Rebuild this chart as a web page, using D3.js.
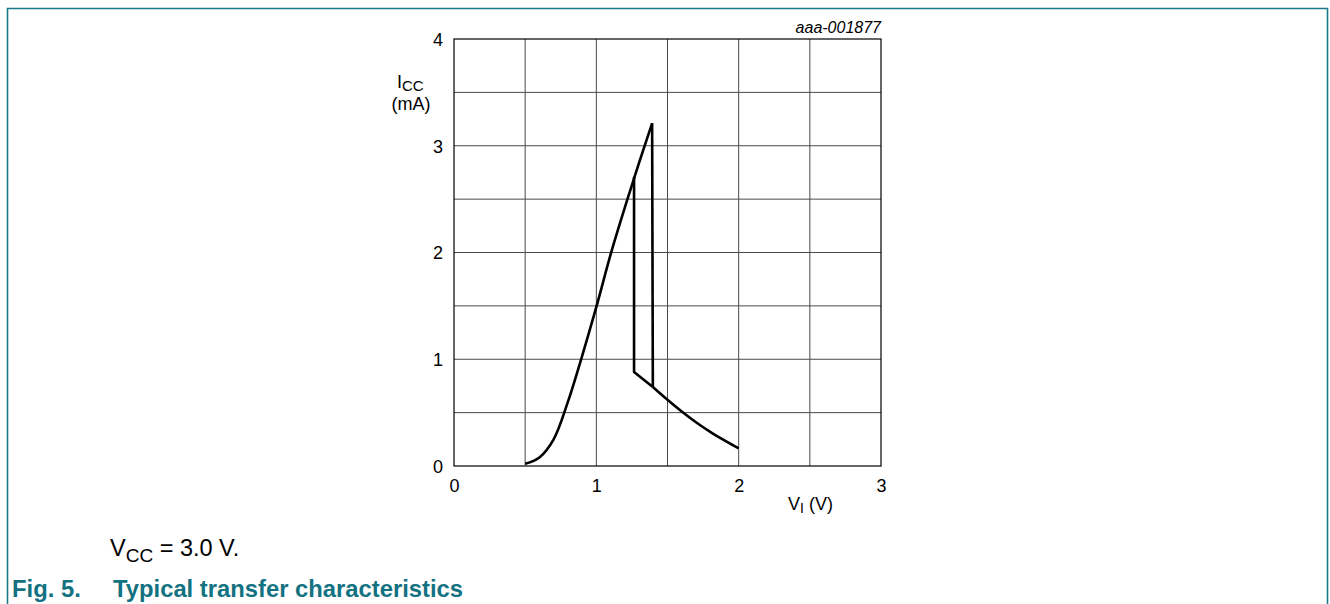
<!DOCTYPE html>
<html>
<head>
<meta charset="utf-8">
<script src="https://cdn.jsdelivr.net/npm/d3@7"></script>
<style>
	body { margin: 0; background: #fff; }
	svg { display: block; font-family: "Liberation Sans", Arial, sans-serif; }
</style>
</head>
<body>
<div id="chart"></div>
<script>
// axis ticks
const xTicks = [0, 1, 2, 3];
const yTicks = [0, 1, 2, 3, 4];
const xGrid = [0.5, 1, 1.5, 2, 2.5];
const yGrid = [0.5, 1, 1.5, 2, 2.5, 3, 3.5];

// rising branch, V_I (V) / I_CC (mA)
const riseV = [0.5, 0.6, 0.7, 0.8, 0.9, 1.0, 1.1, 1.2, 1.3, 1.392];
const riseI = [0.02, 0.08, 0.25, 0.6, 1.03, 1.49, 1.98, 2.42, 2.84, 3.21];

// switching drop (rising input)
const dropV = [1.392, 1.397];
const dropI = [3.21, 0.74];

// falling tail
const tailV = [1.397, 1.5, 1.6, 1.7, 1.8, 1.9, 2.0];
const tailI = [0.74, 0.62, 0.51, 0.41, 0.32, 0.24, 0.165];

// switching on falling input
const backV = [1.265, 1.265, 1.397];
const backI = [2.71, 0.88, 0.74];

const W = 1330, H = 604;
const plot = { left: 454, right: 881, top: 39, bottom: 466 };

const svg = d3.select("#chart").append("svg")
	.attr("width", W)
	.attr("height", H);

// page frame
svg.append("path")
	.attr("d", `M7.5,${H} V8.5 H1327.5 V${H}`)
	.attr("fill", "none")
	.attr("stroke", "#1b7a88")
	.attr("stroke-width", 1.6);

const x = d3.scaleLinear().domain([0, 3]).range([plot.left, plot.right]);
const y = d3.scaleLinear().domain([0, 4]).range([plot.bottom, plot.top]);

// grid
const grid = svg.append("g").attr("stroke", "#4a4a4a").attr("stroke-width", 1);
grid.selectAll("line.v").data(xGrid).join("line")
	.attr("x1", d => x(d)).attr("x2", d => x(d))
	.attr("y1", plot.top).attr("y2", plot.bottom);
grid.selectAll("line.h").data(yGrid).join("line")
	.attr("y1", d => y(d)).attr("y2", d => y(d))
	.attr("x1", plot.left).attr("x2", plot.right);

svg.append("rect")
	.attr("x", plot.left).attr("y", plot.top)
	.attr("width", plot.right - plot.left).attr("height", plot.bottom - plot.top)
	.attr("fill", "none").attr("stroke", "#000").attr("stroke-width", 1.2);

// tick labels
svg.append("g")
	.attr("transform", `translate(0,${plot.bottom + 26})`)
	.call(d3.axisBottom(x).tickValues(xTicks).tickFormat(d3.format("d")).tickSize(0).tickPadding(0))
	.call(g => g.select(".domain").remove())
	.selectAll("text").attr("font-size", 18).attr("font-family", "Liberation Sans, Arial, sans-serif").attr("fill", "#000").attr("dy", 0);

svg.append("g")
	.attr("transform", `translate(${plot.left - 11},0)`)
	.call(d3.axisLeft(y).tickValues(yTicks).tickFormat(d3.format("d")).tickSize(0).tickPadding(0))
	.call(g => g.select(".domain").remove())
	.selectAll("text").attr("font-size", 18).attr("font-family", "Liberation Sans, Arial, sans-serif").attr("fill", "#000").attr("dy", "0.35em");

// axis titles
const yl = svg.append("text").attr("x", 397).attr("y", 88).attr("font-size", 18);
yl.append("tspan").text("I");
yl.append("tspan").attr("font-size", 15).attr("dy", 3).text("CC");
svg.append("text").attr("x", 411).attr("y", 110).attr("font-size", 18).attr("text-anchor", "middle").text("(mA)");

const xl = svg.append("text").attr("x", 788).attr("y", 510).attr("font-size", 18);
xl.append("tspan").text("V");
xl.append("tspan").attr("font-size", 14).attr("dy", 3).text("I");
xl.append("tspan").attr("dy", -3).text(" (V)");

svg.append("text")
	.attr("x", plot.right).attr("y", 33)
	.attr("text-anchor", "end").attr("font-size", 16).attr("font-style", "italic")
	.text("aaa-001877");

// curves
const smooth = d3.line().x(d => x(d[0])).y(d => y(d[1])).curve(d3.curveCatmullRom.alpha(0.5));
const straight = d3.line().x(d => x(d[0])).y(d => y(d[1]));
const zip = (a, b) => a.map((v, i) => [v, b[i]]);

const curves = svg.append("g")
	.attr("fill", "none").attr("stroke", "#000")
	.attr("stroke-width", 2.6).attr("stroke-linejoin", "round");
curves.append("path").attr("d", smooth(zip(riseV, riseI)));
curves.append("path").attr("d", straight(zip(dropV, dropI)));
curves.append("path").attr("d", smooth(zip(tailV, tailI)));
curves.append("path").attr("d", straight(zip(backV, backI)));

// caption
const cap = svg.append("text").attr("x", 110).attr("y", 556).attr("font-size", 23.5);
cap.append("tspan").text("V");
cap.append("tspan").attr("font-size", 19).attr("dy", 6).text("CC");
cap.append("tspan").attr("dy", -6).text(" = 3.0 V.");

svg.append("text").attr("x", 12).attr("y", 597)
	.attr("font-size", 23.8).attr("font-weight", "bold").attr("fill", "#137281")
	.text("Fig. 5.");
svg.append("text").attr("x", 113).attr("y", 597)
	.attr("font-size", 23.8).attr("font-weight", "bold").attr("fill", "#137281")
	.text("Typical transfer characteristics");
</script>
</body>
</html>
